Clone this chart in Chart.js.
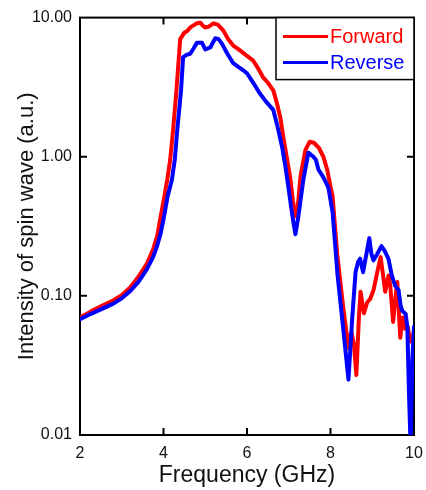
<!DOCTYPE html>
<html><head><meta charset="utf-8">
<script src="https://cdn.jsdelivr.net/npm/chart.js@4/dist/chart.umd.min.js"></script>
<style>html,body{margin:0;padding:0;background:#fff;} #wrap{width:426px;height:490px;}</style>
</head><body><div id="wrap"><canvas id="c" width="426" height="490"></canvas></div>
<script>
const seriesNames = ['Forward', 'Reverse'];
const freqForward = [2.0,2.25,2.5,2.8,3.0,3.2,3.4,3.6,3.75,3.85,3.92,4.0,4.09,4.16,4.23,4.31,4.4,4.5,4.57,4.64,4.72,4.8,4.88,4.95,5.0,5.08,5.2,5.3,5.43,5.55,5.67,5.8,5.9,6.0,6.15,6.27,6.39,6.5,6.63,6.72,6.8,6.86,6.95,7.03,7.1,7.16,7.22,7.28,7.4,7.5,7.6,7.72,7.83,7.92,8.0,8.05,8.16,8.3,8.43,8.5,8.56,8.62,8.68,8.72,8.8,8.88,8.95,9.03,9.12,9.2,9.26,9.31,9.39,9.43,9.5,9.56,9.6,9.67,9.73,9.79,9.85,9.91,9.96,10.0];
const forward = [0.070,0.077,0.084,0.093,0.101,0.115,0.137,0.17,0.215,0.27,0.355,0.48,0.685,0.95,1.56,3.0,7.0,7.8,8.0,8.5,8.8,9.1,9.2,8.7,8.5,8.6,9.1,8.9,8.1,7.0,6.3,5.9,5.6,5.3,4.9,4.3,3.7,3.4,3.0,2.4,1.9,1.45,1.0,0.72,0.48,0.373,0.45,0.72,1.12,1.28,1.26,1.16,1.0,0.81,0.61,0.52,0.2,0.085,0.042,0.055,0.045,0.027,0.07,0.107,0.075,0.09,0.095,0.11,0.148,0.19,0.14,0.107,0.14,0.12,0.065,0.1,0.126,0.05,0.07,0.058,0.06,0.047,0.05,0.055];
const freqReverse = [2.0,2.25,2.5,2.8,3.0,3.2,3.4,3.6,3.75,3.85,3.93,4.0,4.1,4.2,4.27,4.33,4.42,4.47,4.55,4.64,4.72,4.8,4.92,5.0,5.12,5.24,5.32,5.4,5.53,5.67,5.8,5.9,6.0,6.15,6.3,6.45,6.63,6.72,6.84,6.92,6.99,7.05,7.11,7.16,7.23,7.35,7.47,7.59,7.65,7.71,7.83,7.95,8.05,8.17,8.3,8.43,8.52,8.6,8.66,8.71,8.78,8.86,8.93,8.98,9.03,9.12,9.22,9.3,9.39,9.47,9.55,9.63,9.68,9.72,9.8,9.84,9.88,9.92,9.96,10.0];
const reverse = [0.068,0.074,0.080,0.088,0.096,0.108,0.126,0.155,0.19,0.23,0.28,0.355,0.52,0.68,0.95,1.56,3.0,5.2,5.4,5.5,6.0,6.6,6.6,5.9,6.1,7.1,7.0,6.5,5.5,4.7,4.4,4.2,3.98,3.4,2.87,2.5,2.17,1.7,1.18,0.85,0.61,0.45,0.34,0.277,0.373,0.685,1.07,1.0,0.95,0.81,0.71,0.6,0.4,0.14,0.06,0.025,0.069,0.148,0.175,0.185,0.148,0.2,0.26,0.2,0.18,0.2,0.228,0.21,0.184,0.14,0.118,0.11,0.085,0.078,0.074,0.06,0.02,0.008,0.035,0.06];
const xTicks = [2,4,6,8,10];
const yTicks = [0.01,0.1,1,10];
const yTickLabels = ['0.01','0.10','1.00','10.00'];
const seriesColors = ['#ff0000','#0000ff'];

const FONT = '"Liberation Sans", Arial, Helvetica, sans-serif';

const toPts = (xs, ys) => xs.map((x, i) => ({x: x, y: ys[i]}));

const framePlugin = {
  id: 'frame',
  beforeDatasetsDraw(chart) {
    const {ctx, chartArea: a, scales: {x, y}} = chart;
    ctx.save();
    ctx.strokeStyle = '#000';
    ctx.lineWidth = 2;
    ctx.strokeRect(a.left, a.top, a.right - a.left, a.bottom - a.top);
    ctx.beginPath();
    xTicks.forEach(v => {
      if (v > x.min && v < x.max) {
        const px = x.getPixelForValue(v);
        ctx.moveTo(px, a.bottom); ctx.lineTo(px, a.bottom - 7);
        ctx.moveTo(px, a.top); ctx.lineTo(px, a.top + 7);
      }
    });
    yTicks.forEach(v => {
      if (v > y.min && v < y.max) {
        const py = y.getPixelForValue(v);
        ctx.moveTo(a.left, py); ctx.lineTo(a.left + 7, py);
        ctx.moveTo(a.right, py); ctx.lineTo(a.right - 7, py);
      }
    });
    ctx.stroke();
    ctx.restore();
  },
  afterDatasetsDraw(chart) {
    const {ctx, chartArea: a} = chart;
    const w = 138, h = 62;
    const bx = a.right - w, by = a.top;
    ctx.save();
    ctx.fillStyle = '#fff';
    ctx.fillRect(bx, by, w, h);
    ctx.strokeStyle = '#000';
    ctx.lineWidth = 1.5;
    ctx.strokeRect(bx, by, w, h);
    ctx.font = '20px ' + FONT;
    ctx.textBaseline = 'middle';
    seriesNames.forEach((name, i) => {
      const cy = by + 19 + i * 26;
      ctx.strokeStyle = seriesColors[i];
      ctx.lineWidth = 3;
      ctx.beginPath();
      ctx.moveTo(bx + 7, cy); ctx.lineTo(bx + 52, cy);
      ctx.stroke();
      ctx.fillStyle = seriesColors[i];
      ctx.fillText(name, bx + 54, cy + 1);
    });
    ctx.restore();
  }
};

new Chart(document.getElementById('c'), {
  type: 'line',
  data: {
    datasets: [
      {label: seriesNames[0], data: toPts(freqForward, forward), borderColor: seriesColors[0], backgroundColor: seriesColors[0], borderWidth: 4, pointRadius: 0, tension: 0, fill: false, order: 1, borderJoinStyle: 'round', borderCapStyle: 'round'},
      {label: seriesNames[1], data: toPts(freqReverse, reverse), borderColor: seriesColors[1], backgroundColor: seriesColors[1], borderWidth: 4, pointRadius: 0, tension: 0, fill: false, order: 0, borderJoinStyle: 'round', borderCapStyle: 'round'}
    ]
  },
  options: {
    responsive: false,
    animation: false,
    devicePixelRatio: 1,
    layout: {padding: {top: 17, right: 12, left: 0, bottom: 0}},
    plugins: {legend: {display: false}, tooltip: {enabled: false}},
    scales: {
      x: {
        type: 'linear', min: 2, max: 10,
        grid: {display: false, drawTicks: false},
        border: {display: false},
        afterBuildTicks: s => { s.ticks = xTicks.map(v => ({value: v})); },
        afterFit: s => { s.height = 55; s.paddingRight = 0; s.paddingLeft = 0; },
        ticks: {padding: 9, color: '#111', font: {size: 16, family: FONT}, maxRotation: 0, callback: v => String(v)},
        title: {display: true, text: 'Frequency (GHz)', color: '#111', font: {size: 23, family: FONT}, padding: {top: 0, bottom: 1}}
      },
      y: {
        type: 'logarithmic', min: 0.01, max: 10,
        grid: {display: false, drawTicks: false},
        border: {display: false},
        afterBuildTicks: s => { s.ticks = yTicks.map(v => ({value: v})); },
        afterFit: s => { s.width = 80; },
        ticks: {padding: 8, color: '#111', font: {size: 16, family: FONT}, callback: (v, i) => yTickLabels[i]},
        title: {display: true, text: 'Intensity of spin wave (a.u.)', color: '#111', font: {size: 22, family: FONT}, padding: {top: 14, bottom: 0}}
      }
    }
  },
  plugins: [framePlugin]
});
</script>
</body></html>
